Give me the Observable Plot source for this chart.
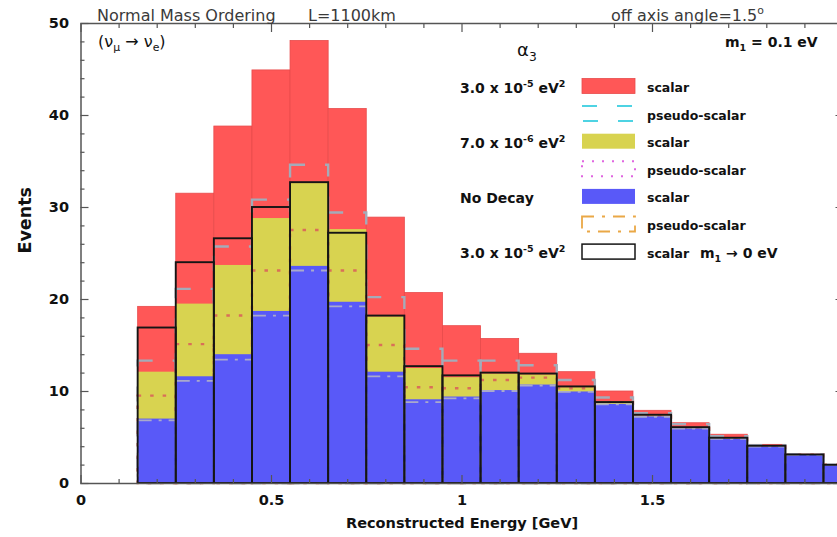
<!DOCTYPE html>
<html>
<head>
<meta charset="utf-8">
<script src="https://cdn.jsdelivr.net/npm/d3@7"></script>
<script src="https://cdn.jsdelivr.net/npm/@observablehq/plot@0.6"></script>
<style>
  html, body { margin: 0; padding: 0; background: #fff; overflow: hidden; }
  #chart svg { display: block; }
</style>
</head>
<body>
<div id="chart"></div>
<script>
// Reconstructed-energy bins [GeV]
const binStart = [0.15, 0.25, 0.35, 0.45, 0.55, 0.65, 0.75, 0.85, 0.95, 1.05, 1.15, 1.25, 1.35, 1.45, 1.55, 1.65, 1.75, 1.85, 1.95];
const binEnd   = [0.25, 0.35, 0.45, 0.55, 0.65, 0.75, 0.85, 0.95, 1.05, 1.15, 1.25, 1.35, 1.45, 1.55, 1.65, 1.75, 1.85, 1.95, 2.05];

// Event counts per bin, m1 = 0.1 eV
const scalar30     = [19.2, 31.5, 38.8, 44.9, 48.1, 40.7, 28.9, 20.7, 17.1, 15.7, 14.1, 12.1, 10.0, 7.9, 6.55, 5.3, 4.2, 3.14, 2.0];   // alpha3 = 3.0e-5 eV^2, scalar
const pseudo30     = [13.3, 21.1, 25.7, 30.8, 34.6, 29.4, 20.2, 14.6, 13.3, 13.3, 12.8, 11.2, 9.3, 7.6, 6.4, 5.1, 4.1, 3.12, 2.0];    // alpha3 = 3.0e-5 eV^2, pseudo-scalar
const scalar7      = [12.1, 19.5, 23.7, 28.8, 32.6, 27.6, 18.1, 12.5, 11.5, 11.9, 11.8, 10.4, 8.9, 7.35, 6.0, 4.85, 4.0, 3.1, 2.0];    // alpha3 = 7.0e-6 eV^2, scalar
const pseudo7      = [9.5, 15.1, 18.2, 23.1, 27.5, 23.1, 15.0, 10.4, 10.3, 11.2, 11.45, 10.3, 8.8, 7.3, 5.98, 4.83, 3.98, 3.08, 1.99]; // alpha3 = 7.0e-6 eV^2, pseudo-scalar
const noDecay      = [7.0, 11.6, 14.0, 18.7, 23.6, 19.7, 12.1, 9.1, 9.4, 10.1, 10.7, 9.95, 8.6, 7.24, 5.93, 4.81, 3.97, 3.08, 1.98]; // no decay, scalar
const noDecayPs    = [6.8, 11.1, 13.4, 18.2, 23.1, 19.2, 11.6, 8.8, 9.2, 10.0, 10.6, 9.9, 8.55, 7.2, 5.9, 4.8, 3.95, 3.07, 1.97];   // no decay, pseudo-scalar
// alpha3 = 3.0e-5 eV^2, scalar, m1 -> 0 eV
const scalar30m0   = [16.9, 24.0, 26.6, 30.0, 32.7, 27.2, 18.2, 12.7, 11.7, 12.0, 11.9, 10.5, 8.8, 7.42, 6.07, 4.92, 4.05, 3.1, 1.98];

// Axis ticks
const xMajorTicks = [0, 0.5, 1, 1.5, 2];
const xLabelTicks = [0, 0.5, 1, 1.5];
const xTickLabels = ["0", "0.5", "1", "1.5"];
const xMinorTicks = d3.range(0, 21).map(i => i / 10).filter(v => Math.abs(v * 2 - Math.round(v * 2)) > 1e-9);
const yMajorTicks = [0, 10, 20, 30, 40, 50];
const yMinorTicks = d3.range(0, 51, 2).filter(v => v % 10 !== 0);

// Legend entries
const legendGroups = ["3.0 x 10^{-5} eV^{2}", "", "7.0 x 10^{-6} eV^{2}", "", "No Decay", "", "3.0 x 10^{-5} eV^{2}"];
const legendKinds  = ["scalar", "pseudo-scalar", "scalar", "pseudo-scalar", "scalar", "pseudo-scalar", "scalar"];

const RED = "#ff5757", YELLOW = "#d8d350", BLUE = "#5959f8";
const FONT = "DejaVu Sans, Verdana, sans-serif";

const bins = binStart.map((x0, i) => ({
  x0, x1: binEnd[i],
  s30: scalar30[i], p30: pseudo30[i], s7: scalar7[i], p7: pseudo7[i],
  s0: noDecay[i], p0: noDecayPs[i], s30m0: scalar30m0[i]
}));

const box = (y, opts) => Plot.rect(bins, {x1: "x0", x2: "x1", y1: 0, y2: y, ...opts});

const axisStyle = {stroke: "#555", strokeWidth: 1.2, label: null};

const chart = Plot.plot({
  width: 837,
  height: 537,
  marginLeft: 80.5,
  marginRight: -5.5,
  marginTop: 23,
  marginBottom: 54,
  x: {domain: [0, 2]},
  y: {domain: [0, 50]},
  style: {fontFamily: FONT, background: "#fff", color: "#111"},
  marks: [
    box("s30", {fill: RED, stroke: "#e84b4b", strokeWidth: 0.8}),
    box("p30", {fill: "none", stroke: "#a4abb9", strokeWidth: 2.4, strokeDasharray: "15,20"}),
    box("s7", {fill: YELLOW}),
    box("p7", {fill: "none", stroke: "#d96f58", strokeWidth: 2.4, strokeDasharray: "3.5,9"}),
    box("s0", {fill: BLUE}),
    box("p0", {fill: "none", stroke: "#a9a9cc", strokeWidth: 1.8, strokeDasharray: "14,7,3,7"}),
    box("s30m0", {fill: "none", stroke: "#151515", strokeWidth: 1.9}),

    Plot.frame({stroke: "#555", strokeWidth: 1.5}),
    // inward ticks on all four sides
    Plot.axisY(yMajorTicks, {...axisStyle, anchor: "left", tickSize: -8, tickPadding: 20,
      fontSize: 14.5, fontWeight: "bold", fill: "#111"}),
    Plot.axisY(yMinorTicks, {...axisStyle, anchor: "left", tickSize: -4, tickFormat: () => ""}),
    Plot.axisY(yMajorTicks, {...axisStyle, anchor: "right", tickSize: -8, tickFormat: () => ""}),
    Plot.axisY(yMinorTicks, {...axisStyle, anchor: "right", tickSize: -4, tickFormat: () => ""}),
    Plot.axisX(xMajorTicks, {...axisStyle, anchor: "bottom", tickSize: -8, tickFormat: () => ""}),
    Plot.axisX(xLabelTicks, {...axisStyle, anchor: "bottom", tickSize: 0, tickPadding: 11,
      tickFormat: (d, i) => xTickLabels[i], fontSize: 14.5, fontWeight: "bold", fill: "#111"}),
    Plot.axisX(xMinorTicks, {...axisStyle, anchor: "bottom", tickSize: -4, tickFormat: () => ""}),
    Plot.axisX(xMajorTicks, {...axisStyle, anchor: "top", tickSize: -8, tickFormat: () => ""}),
    Plot.axisX(xMinorTicks, {...axisStyle, anchor: "top", tickSize: -4, tickFormat: () => ""}),

    Plot.text(["Reconstructed Energy [GeV]"], {frameAnchor: "bottom", dy: 40, lineAnchor: "middle",
      fontSize: 14.5, fontWeight: "bold", fill: "#111"}),
    Plot.text(["Events"], {frameAnchor: "left", dx: -56, rotate: -90, lineAnchor: "middle",
      fontSize: 17.5, fontWeight: "bold", fill: "#111"})
  ]
});

document.getElementById("chart").appendChild(chart);

// Text with ^{...} superscripts and _{...} subscripts
function richText(parent, x, y, markup, {size = 14, weight = "normal", anchor = "start", fill = "#111"} = {}) {
  const t = parent.append("text")
    .attr("x", x).attr("y", y)
    .attr("font-family", FONT)
    .attr("font-size", size)
    .attr("font-weight", weight)
    .attr("text-anchor", anchor)
    .attr("fill", fill);
  const re = /([\^_])\{([^}]*)\}/g;
  const parts = [];
  let last = 0, m;
  while ((m = re.exec(markup))) {
    if (m.index > last) parts.push({s: markup.slice(last, m.index), k: 0});
    parts.push({s: m[2], k: m[1] === "^" ? -1 : 1});
    last = re.lastIndex;
  }
  if (last < markup.length) parts.push({s: markup.slice(last), k: 0});
  let cur = 0;
  for (const p of parts) {
    const target = p.k === -1 ? -0.42 * size : p.k === 1 ? 0.28 * size : 0;
    t.append("tspan")
      .attr("dy", target - cur)
      .attr("font-size", p.k ? size * 0.68 : size)
      .text(p.s);
    cur = target;
  }
  return t;
}

const svg = d3.select(chart);
const notes = svg.append("g");

// header above the frame
richText(notes, 97, 21, "Normal Mass Ordering", {size: 16, fill: "#3a3a3a"});
richText(notes, 308, 21, "L=1100km", {size: 16, fill: "#3a3a3a"});
richText(notes, 611, 21, "off axis angle=1.5^{o}", {size: 16, fill: "#3a3a3a"});

// labels inside the frame
richText(notes, 98, 47, "(\u03bd_{\u03bc} \u2192 \u03bd_{e})", {size: 16});
richText(notes, 725, 47, "m_{1} = 0.1 eV", {size: 14, weight: "bold"});
richText(notes, 517, 56, "\u03b1_{3}", {size: 18});

// legend
const keyX = 582, keyW = 53, keyH = 15, rowY0 = 86, rowStep = 27.6;
const keyStyles = [
  {fill: RED, stroke: "#e84b4b", width: 0.8},
  {fill: "none", stroke: "#4ed3e3", width: 2, dash: "15,20"},
  {fill: YELLOW, stroke: "none"},
  {fill: "none", stroke: "#e065e0", width: 2, dash: "2,8"},
  {fill: BLUE, stroke: "none"},
  {fill: "none", stroke: "#eaa846", width: 1.8, dash: "12,8,3,8"},
  {fill: "#fff", stroke: "#151515", width: 1.5}
];
legendKinds.forEach((kind, i) => {
  const cy = rowY0 + i * rowStep;
  const st = keyStyles[i];
  notes.append("rect")
    .attr("x", keyX).attr("y", cy - keyH / 2)
    .attr("width", keyW).attr("height", keyH)
    .attr("fill", st.fill)
    .attr("stroke", st.stroke)
    .attr("stroke-width", st.width || 0)
    .attr("stroke-dasharray", st.dash || null);
  richText(notes, 647, cy + 6, kind, {size: 12.5, weight: "bold"});
  if (legendGroups[i]) richText(notes, 460, cy + 6.5, legendGroups[i], {size: 14, weight: "bold"});
});
richText(notes, 700, rowY0 + 6 * rowStep + 6.5, "m_{1} \u2192 0 eV", {size: 14, weight: "bold"});
</script>
</body>
</html>
